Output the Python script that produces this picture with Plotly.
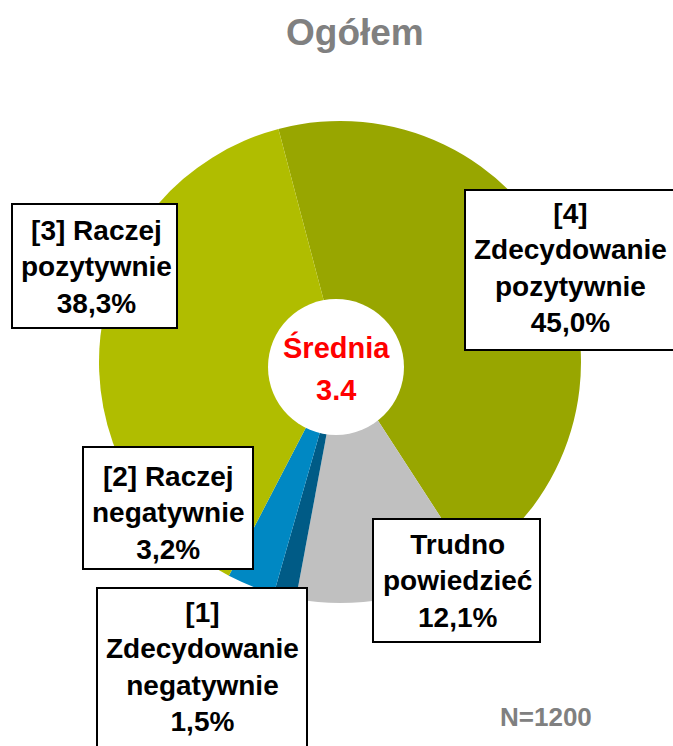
import plotly.graph_objects as go

W, H = 673, 746

# ---- data ----
categories = ["[4] Zdecydowanie pozytywnie", "Trudno powiedzieć",
              "[1] Zdecydowanie negatywnie", "[2] Raczej negatywnie",
              "[3] Raczej pozytywnie"]
values = [45.0, 12.1, 1.5, 3.2, 38.3]
colors = ["#98A600", "#C0C0C0", "#005B86", "#0088C3", "#B0BD00"]
label_lines = [
    ["[4]", "Zdecydowanie", "pozytywnie", "45,0%"],
    ["Trudno", "powiedzieć", "12,1%"],
    ["[1]", "Zdecydowanie", "negatywnie", "1,5%"],
    ["[2] Raczej", "negatywnie", "3,2%"],
    ["[3] Raczej", "pozytywnie", "38,3%"],
]
mean_label = "Średnia"
mean_value = "3.4"
title_text = "Ogółem"
n_text = "N=1200"

# ---- layout helpers (pixel -> paper) ----
def px(x):
    return x / W

def py(y):
    return 1 - y / H

# label boxes (left, top, right, bottom) and text centres, in pixels
boxes = [
    (465, 190, 677, 350),
    (373, 519, 540, 642),
    (97, 588, 307, 760),
    (83, 447, 253, 569),
    (12, 204, 177, 328),
]
text_centres = [(570, 268), (457, 581), (202, 667), (168, 513), (96, 267)]

FONT = "Arial, Liberation Sans, sans-serif"

fig = go.Figure(go.Pie(
    labels=categories,
    values=values,
    sort=False,
    direction="clockwise",
    rotation=-14.8,
    marker=dict(colors=colors, line=dict(width=0)),
    textinfo="none",
    hoverinfo="label+percent",
    showlegend=False,
    domain=dict(x=[px(99), px(581)], y=[py(603), py(121)]),
))

shapes = []
for (l, t, r, b) in boxes:
    shapes.append(dict(type="rect", xref="paper", yref="paper",
                       x0=px(l), x1=px(r), y0=py(b), y1=py(t),
                       fillcolor="white", line=dict(color="black", width=2),
                       layer="above"))
# centre white circle
shapes.append(dict(type="circle", xref="paper", yref="paper",
                   x0=px(336 - 68), x1=px(336 + 68), y0=py(367 + 68), y1=py(367 - 68),
                   fillcolor="white", line=dict(width=0), layer="above"))

annotations = []
for lines, (cx, cy) in zip(label_lines, text_centres):
    annotations.append(dict(xref="paper", yref="paper", x=px(cx), y=py(cy),
                            xanchor="center", yanchor="middle", align="center",
                            text="<b>" + "<br>".join(lines) + "</b>",
                            showarrow=False,
                            font=dict(family=FONT, size=28, color="black")))

annotations.append(dict(xref="paper", yref="paper", x=px(336), y=py(347),
                        xanchor="center", yanchor="middle",
                        text="<b>" + mean_label + "</b>", showarrow=False,
                        font=dict(family=FONT, size=29, color="#FF0000")))
annotations.append(dict(xref="paper", yref="paper", x=px(336), y=py(390),
                        xanchor="center", yanchor="middle",
                        text="<b>" + mean_value + "</b>", showarrow=False,
                        font=dict(family=FONT, size=29, color="#FF0000")))
annotations.append(dict(xref="paper", yref="paper", x=px(355), y=py(32),
                        xanchor="center", yanchor="middle",
                        text="<b>" + title_text + "</b>", showarrow=False,
                        font=dict(family=FONT, size=37, color="#808080")))
annotations.append(dict(xref="paper", yref="paper", x=px(546), y=py(717),
                        xanchor="center", yanchor="middle",
                        text="<b>" + n_text + "</b>", showarrow=False,
                        font=dict(family=FONT, size=26, color="#808080")))

fig.update_layout(
    width=W, height=H,
    margin=dict(l=0, r=0, t=0, b=0),
    paper_bgcolor="white", plot_bgcolor="white",
    shapes=shapes, annotations=annotations,
)

fig.write_html("out.html")
